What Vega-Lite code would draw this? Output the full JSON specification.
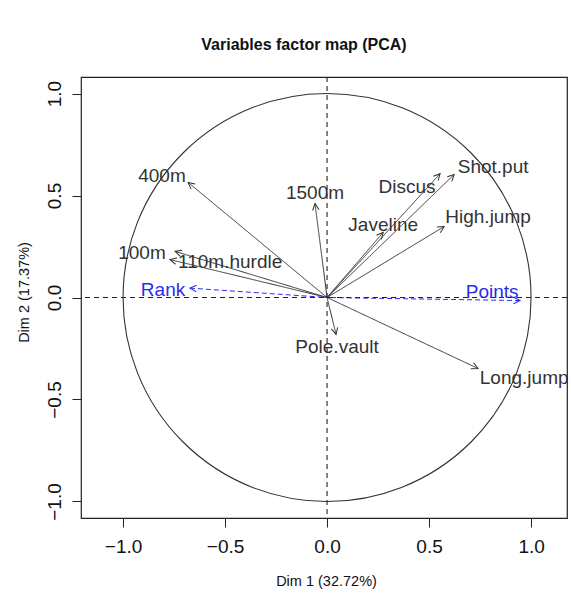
{
  "$schema": "https://vega.github.io/schema/vega-lite/v6.json",
  "width": 486,
  "height": 441,
  "autosize": {"type": "none"},
  "padding": {"left": 81, "top": 77, "right": 4, "bottom": 82},
  "background": "white",
  "config": {
    "font": "Liberation Sans",
    "view": {"stroke": "#222", "strokeWidth": 1.2}
  },
  "title": {
    "text": "Variables factor map (PCA)",
    "fontSize": 16,
    "fontWeight": "bold",
    "font": "Liberation Sans",
    "color": "#111",
    "baseline": "alphabetic",
    "offset": 10,
    "dx": -20,
    "frame": "group"
  },
  "datasets": {
    "vars": [
      {"name": "400m", "x": -0.681, "y": 0.564, "lx": -0.809, "ly": 0.598, "type": "active"},
      {"name": "100m", "x": -0.745, "y": 0.226, "lx": -0.907, "ly": 0.216, "type": "active"},
      {"name": "110m.hurdle", "x": -0.77, "y": 0.186, "lx": -0.475, "ly": 0.172, "type": "active"},
      {"name": "1500m", "x": -0.059, "y": 0.46, "lx": -0.059, "ly": 0.51, "type": "active"},
      {"name": "Discus", "x": 0.554, "y": 0.607, "lx": 0.392, "ly": 0.544, "type": "active"},
      {"name": "Shot.put", "x": 0.623, "y": 0.603, "lx": 0.814, "ly": 0.642, "type": "active"},
      {"name": "Javeline", "x": 0.275, "y": 0.319, "lx": 0.275, "ly": 0.353, "type": "active"},
      {"name": "High.jump", "x": 0.574, "y": 0.348, "lx": 0.789, "ly": 0.397, "type": "active"},
      {"name": "Pole.vault", "x": 0.044, "y": -0.181, "lx": 0.049, "ly": -0.245, "type": "active"},
      {"name": "Long.jump", "x": 0.74, "y": -0.348, "lx": 0.966, "ly": -0.397, "type": "active"},
      {"name": "Rank", "x": -0.672, "y": 0.046, "lx": -0.804, "ly": 0.039, "type": "supp"},
      {"name": "Points", "x": 0.946, "y": -0.015, "lx": 0.809, "ly": 0.029, "type": "supp"}
    ]
  },
  "layer": [
    {
      "data": {"name": "vars"},
      "mark": {"type": "rule", "strokeWidth": 1},
      "encoding": {
        "x": {
          "field": "x",
          "type": "quantitative",
          "title": "Dim 1 (32.72%)",
          "scale": {"domain": [-1.206, 1.176], "nice": false, "zero": false},
          "axis": {
            "values": [-1, -0.5, 0, 0.5, 1],
            "format": ".1f",
            "domain": false,
            "grid": false,
            "tickColor": "#222",
            "tickSize": 9,
            "labelFontSize": 19,
            "labelColor": "#111",
            "labelPadding": 10,
            "labelFont": "Liberation Sans",
            "titleFontSize": 14.5,
            "titleFontWeight": "normal",
            "titleColor": "#111",
            "titleFont": "Liberation Sans",
            "titleBaseline": "alphabetic",
            "titleAlign": "center",
            "titleX": 245,
            "titleY": 67
          }
        },
        "y": {
          "field": "y",
          "type": "quantitative",
          "title": "Dim 2 (17.37%)",
          "scale": {"domain": [-1.081, 1.081], "nice": false, "zero": false},
          "axis": {
            "values": [-1, -0.5, 0, 0.5, 1],
            "format": ".1f",
            "domain": false,
            "grid": false,
            "tickColor": "#222",
            "tickSize": 9,
            "labelFontSize": 19,
            "labelColor": "#111",
            "labelAngle": -90,
            "labelAlign": "center",
            "labelBaseline": "bottom",
            "labelPadding": 8,
            "labelFont": "Liberation Sans",
            "titleFontSize": 14.5,
            "titleFontWeight": "normal",
            "titleColor": "#111",
            "titleFont": "Liberation Sans",
            "titleAngle": -90,
            "titleBaseline": "alphabetic",
            "titleAlign": "center",
            "titleX": -53,
            "titleY": 215
          }
        },
        "x2": {"datum": 0},
        "y2": {"datum": 0},
        "color": {"field": "type", "type": "nominal", "scale": {"domain": ["active", "supp"], "range": ["#333333", "#2b2bef"]}, "legend": null},
        "strokeDash": {"field": "type", "type": "nominal", "scale": {"domain": ["active", "supp"], "range": [[1, 0], [5, 3]]}, "legend": null}
      }
    },
    {
      "data": {"values": [{"v": 0}]},
      "mark": {"type": "rule", "color": "#222", "strokeDash": [5, 4], "strokeWidth": 1.1},
      "encoding": {"y": {"field": "v", "type": "quantitative", "title": "Dim 2 (17.37%)"}}
    },
    {
      "data": {"values": [{"v": 0}]},
      "mark": {"type": "rule", "color": "#222", "strokeDash": [5, 4], "strokeWidth": 1.1},
      "encoding": {"x": {"field": "v", "type": "quantitative", "title": "Dim 1 (32.72%)"}}
    },
    {
      "data": {"values": [{"v": 0}]},
      "mark": {"type": "point", "shape": "circle", "filled": false, "color": "#333", "strokeWidth": 1.1, "size": 166464, "opacity": 1},
      "encoding": {"x": {"field": "v", "type": "quantitative", "title": "Dim 1 (32.72%)"}, "y": {"field": "v", "type": "quantitative", "title": "Dim 2 (17.37%)"}}
    },
    {
      "data": {"name": "vars"},
      "mark": {"type": "point", "shape": "M -0.5 1 L 0 0 L 0.5 1", "filled": false, "strokeWidth": 1, "size": 169, "opacity": 1, "angle": {"expr": "90 - atan2(datum.y, datum.x) * 180 / PI"}},
      "encoding": {
        "x": {"field": "x", "type": "quantitative", "title": "Dim 1 (32.72%)"},
        "y": {"field": "y", "type": "quantitative", "title": "Dim 2 (17.37%)"},
        "color": {"field": "type", "type": "nominal", "scale": {"domain": ["active", "supp"], "range": ["#333333", "#2b2bef"]}, "legend": null}
      }
    },
    {
      "data": {"name": "vars"},
      "mark": {"type": "text", "fontSize": 19, "font": "Liberation Sans", "align": "center", "baseline": "middle"},
      "encoding": {
        "x": {"field": "lx", "type": "quantitative", "title": "Dim 1 (32.72%)"},
        "y": {"field": "ly", "type": "quantitative", "title": "Dim 2 (17.37%)"},
        "text": {"field": "name"},
        "color": {"field": "type", "type": "nominal", "scale": {"domain": ["active", "supp"], "range": ["#222222", "#2b2bef"]}, "legend": null}
      }
    }
  ]
}
